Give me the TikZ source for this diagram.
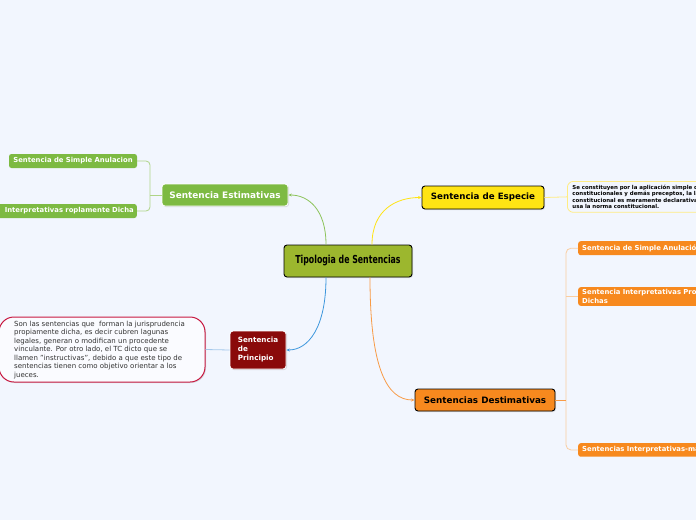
\documentclass[tikz,border=0pt]{standalone}
\usepackage{fontspec}
\setmainfont{DejaVu Sans}
\newfontfamily\condfont{DejaVu Sans Condensed}
\usetikzlibrary{shadows,arrows.meta}
\definecolor{bgc}{RGB}{242,246,254}
\definecolor{olive}{RGB}{156,183,46}
\definecolor{gnode}{RGB}{125,186,66}
\definecolor{gline}{RGB}{175,212,135}
\definecolor{gcurve}{RGB}{140,195,90}
\definecolor{ynode}{RGB}{255,228,20}
\definecolor{yline}{RGB}{255,236,130}
\definecolor{onode}{RGB}{247,137,30}
\definecolor{oline}{RGB}{250,205,160}
\definecolor{ocurve}{RGB}{248,155,70}
\definecolor{rnode}{RGB}{138,10,10}
\definecolor{rborder}{RGB}{200,25,65}
\definecolor{bcurve}{RGB}{60,150,220}
\definecolor{bline}{RGB}{165,200,235}
\definecolor{txtgray}{RGB}{50,50,50}
\tikzset{
  shd/.style={drop shadow={opacity=0.25,shadow xshift=1pt,shadow yshift=-1pt}},
  mainbox/.style={draw=black, line width=0.9pt, rounded corners=3pt, shd, inner sep=0pt},
  subbox/.style={draw=white, line width=0.8pt, rounded corners=3pt, shd, inner sep=0pt},
  leafbox/.style={rounded corners=2.5pt, inner sep=0pt, text=white, font=\bfseries\fontsize{6.85}{8.3}\selectfont},
  conn/.style={line width=0.8pt},
  tip/.style={-{Stealth[length=3.5pt,width=3pt]}},
}
\begin{document}
\begin{tikzpicture}[x=1pt,y=-1pt]
\useasboundingbox (0,0) rectangle (696,520);
\fill[bgc] (0,0) rectangle (696,520);
\clip (0,0) rectangle (696,520);

% central
\node[mainbox, fill=olive, minimum width=128pt, minimum height=32pt, font=\condfont\bfseries\fontsize{11}{12}\selectfont] (c) at (348,261) {\scalebox{0.79}[1]{Tipologia de Sentencias}};

% main branches
\node[subbox, fill=gnode, text=white, minimum width=126pt, minimum height=22pt, font=\bfseries\fontsize{8.9}{10}\selectfont] (est) at (225,195) {Sentencia Estimativas};
\node[mainbox, fill=ynode, minimum width=122pt, minimum height=23pt, font=\bfseries\fontsize{8.7}{10}\selectfont] (esp) at (483,197.5) {Sentencia de Especie};
\node[mainbox, fill=onode, minimum width=140pt, minimum height=22pt, font=\bfseries\fontsize{8.8}{10}\selectfont] (des) at (485,400) {Sentencias Destimativas};
\node[subbox, fill=rnode, text=white, minimum width=56pt, minimum height=38pt, align=left, font=\bfseries\fontsize{7.2}{9}\selectfont] (pri) at (258,350) {\begin{tabular}{@{}l@{}}Sentencia\\de\\Principio\end{tabular}};

% green leaves
\node[leafbox, fill=gnode, minimum width=128pt, minimum height=14pt] (g1) at (73,161) {Sentencia de Simple Anulacion};
\node[leafbox, fill=gnode, anchor=east, text width=150pt, align=right, minimum height=14pt, inner xsep=0pt] (g2) at (137,211) {Interpretativas roplamente Dicha\hspace*{3pt}};

% orange leaves
\node[leafbox, fill=onode, anchor=north west, text width=220pt, align=left, inner xsep=4pt, minimum height=14pt] (o1) at (578,241) {Sentencia de Simple Anulación};
\node[leafbox, fill=onode, anchor=north west, text width=220pt, align=left, inner xsep=4pt, inner ysep=2.5pt] (o2) at (578,287) {Sentencia Interpretativas Propiamente\\Dichas};
\node[leafbox, fill=onode, anchor=north west, text width=220pt, align=left, inner xsep=4pt, minimum height=13.5pt] (o3) at (578,443) {Sentencias Interpretativas-manipulativas};

% descriptions
\node[draw=yline, line width=0.8pt, rounded corners=6pt, fill=bgc, anchor=north west, text width=200pt, align=left, inner xsep=5pt, inner ysep=3.5pt, font=\bfseries\fontsize{5.45}{6.5}\selectfont] (dsp) at (567,181) {Se constituyen por la aplicación simple de las normas\\constitucionales y demás preceptos, la labor\\constitucional es meramente declarativa pues solo\\usa la norma constitucional.};

\node[draw=rborder, line width=1pt, rounded corners=15pt, fill=white!60!bgc, shd, minimum width=206pt, minimum height=65pt, inner sep=0pt] (dpr) at (102,349.5) {};
\node[anchor=west, inner sep=0pt, text=txtgray, font=\fontsize{7}{8.5}\selectfont] (dprt) at (14,350) {\begin{tabular}{@{}l@{}}Son las sentencias que ~forman la jurisprudencia\\propiamente dicha, es decir cubren lagunas\\legales, generan o modifican un procedente\\vinculante. Por otro lado, el TC dicto que se\\llamen "instructivas", debido a que este tipo de\\sentencias tienen como objetivo orientar a los\\jueces.\end{tabular}};

% curves from center
\draw[conn, gcurve, tip] ([xshift=-22pt]c.north) .. controls +(0,-35) and +(20,0) .. (est.east);
\draw[conn, ynode, tip] ([xshift=24pt]c.north) .. controls +(0,-35) and +(-25,0) .. (esp.west);
\draw[conn, bcurve, tip] ([xshift=-22pt]c.south) .. controls +(0,50) and +(22,0) .. (pri.east);
\draw[conn, ocurve, tip] ([xshift=22pt]c.south) .. controls +(0,90) and +(-28,0) .. (des.west);

% brackets
\coordinate (gb) at (150,195);
\draw[conn, gline, rounded corners=4pt] (g1.east) -| (gb) |- (g2.east);
\draw[conn, gline] (est.west) -- (gb);

\coordinate (ob) at (566,400);
\draw[conn, oline, rounded corners=5pt] (o1.west) -| (ob) |- (o3.west);
\draw[conn, oline] (o2.west) -- (o2.west -| ob);
\draw[conn, ocurve] (des.east) -- (ob);

\draw[conn, yline] (esp.east) -- (dsp.west);
\draw[conn, bline] (pri.west) -- (dpr.east);
\end{tikzpicture}
\end{document}
